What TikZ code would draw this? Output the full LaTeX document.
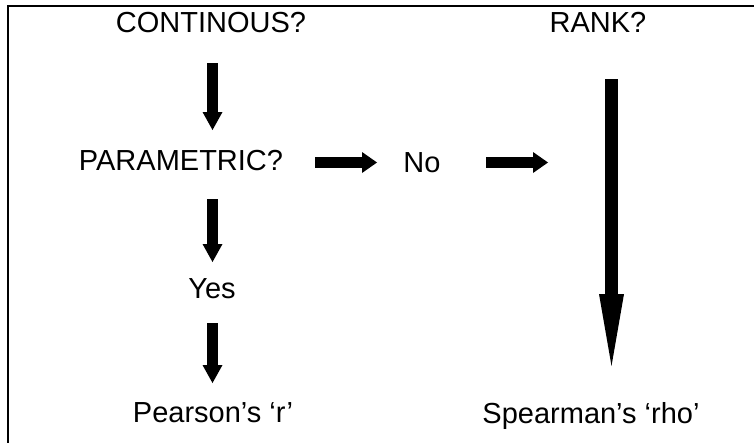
\documentclass[tikz,border=0pt]{standalone}
\usepackage{fontspec}
\setmainfont{Liberation Sans}
\usetikzlibrary{arrows.meta}
\tikzset{
  lbl/.style={inner sep=0pt, anchor=base, font=\fontsize{29}{34}\selectfont},
  vblock/.style={line width=11pt, -{Triangle[width=20pt,length=18pt,line width=0pt]}},
  hblock/.style={line width=11pt, -{Triangle[width=21pt,length=15pt,line width=0pt]}},
  longblock/.style={line width=13pt, -{Triangle[width=25pt,length=72pt,line width=0pt]}},
  frameline/.style={line width=2.2pt}
}
\begin{document}
\begin{tikzpicture}[x=1pt,y=-1pt]
\useasboundingbox (0,0) rectangle (754,442);
% frame (top and left edges only)
\coordinate (fbl) at (8,443);
\coordinate (ftl) at (8,6);
\coordinate (ftr) at (755,6);
\draw[frameline] (fbl) -- (ftl) -- (ftr);
% texts
\node[lbl] (cont) at (211,32) {CONTINOUS?};
\node[lbl] (rank) at (598,32) {RANK?};
\node[lbl] (param) at (181,170) {PARAMETRIC?};
\node[lbl] (no) at (422,172) {No};
\node[lbl] (yes) at (212,298) {Yes};
\node[lbl] (pearson) at (213,422) {Pearson’s ‘r’};
\node[lbl] (spearman) at (591,423) {Spearman’s ‘rho’};
% arrow end points
\coordinate (a1s) at (212.5,63);  \coordinate (a1e) at (212.5,130);
\coordinate (a2s) at (212.5,199); \coordinate (a2e) at (212.5,262);
\coordinate (a3s) at (212.5,323); \coordinate (a3e) at (212.5,383);
\coordinate (h1s) at (315,162.5); \coordinate (h1e) at (377,162.5);
\coordinate (h2s) at (486,162.5); \coordinate (h2e) at (548,162.5);
\coordinate (ls) at (611.5,79);   \coordinate (le) at (611.5,366);
\draw[vblock] (a1s) -- (a1e);
\draw[vblock] (a2s) -- (a2e);
\draw[vblock] (a3s) -- (a3e);
\draw[hblock] (h1s) -- (h1e);
\draw[hblock] (h2s) -- (h2e);
\draw[longblock] (ls) -- (le);
\end{tikzpicture}
\end{document}
